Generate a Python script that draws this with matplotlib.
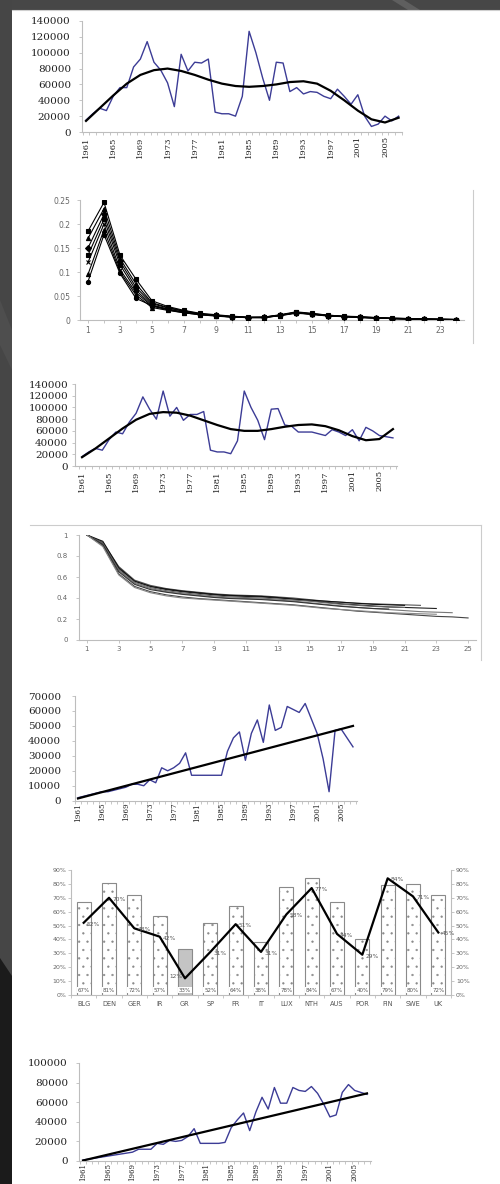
import numpy as np
import matplotlib
matplotlib.use("Agg")
import matplotlib.pyplot as plt
from matplotlib.patches import Polygon
from matplotlib.lines import Line2D

W, H = 500, 1184
plt.rcParams["hatch.linewidth"] = 0.4

BLUE = "#3c3c96"
AXIS = "#bdbdbd"
SERIF = "DejaVu Serif"

# ---- data ----------------------------------------------------------------
years = list(range(1961, 2008))
trend_years = list(range(1961, 2008, 2))

catch_a = [15000, 23000, 30000, 27000, 45000, 56000, 56000, 82000, 92000, 114000,
           88000, 78000, 62000, 32000, 98000, 77000, 88000, 87000, 92000, 25000,
           23000, 23000, 20000, 45000, 127000, 100000, 68000, 40000, 88000, 87000,
           51000, 56000, 48000, 51000, 50000, 45000, 42000, 54000, 45000, 35000,
           47000, 20000, 7000, 10000, 20000, 14000, 20000]
trend_a = [14000, 30000, 46000, 61000, 72000, 78000, 80000, 77000, 72000, 66000,
           61000, 58000, 57000, 58000, 60000, 63000, 64000, 61000, 52000, 40000,
           27000, 16000, 12000, 18000]

catch_b = [16000, 24000, 30000, 27000, 45000, 58000, 55000, 75000, 90000, 118000,
           97000, 80000, 128000, 85000, 100000, 78000, 88000, 88000, 93000, 27000,
           24000, 24000, 21000, 43000, 128000, 100000, 78000, 45000, 97000, 98000,
           70000, 68000, 58000, 58000, 58000, 55000, 52000, 62000, 58000, 52000,
           62000, 43000, 66000, 60000, 52000, 50000, 48000]
trend_b = [15000, 30000, 47000, 64000, 79000, 89000, 92000, 91000, 86000, 78000,
           70000, 63000, 60000, 60000, 63000, 67000, 70000, 71000, 68000, 61000,
           51000, 44000, 46000, 63000]

catch_c = [2000, 3000, 4000, 5000, 6000, 6000, 7000, 8000, 9000, 11000,
           11000, 10000, 14000, 12000, 22000, 20000, 22000, 25000, 32000, 17000,
           17000, 17000, 17000, 17000, 17000, 33000, 42000, 46000, 27000, 45000,
           54000, 39000, 64000, 47000, 49000, 63000, 61000, 59000, 65000, 55000,
           45000, 28000, 6000, 47000, 48000, 42000, 36000]
trend_c_years = [1961, 2007]
trend_c = [1500, 50000]

catch_d = [1000, 2000, 3000, 4000, 5000, 6000, 7000, 8000, 9000, 12000,
           12000, 12000, 18000, 17000, 21000, 20000, 21000, 25000, 33000, 18000,
           18000, 18000, 18000, 19000, 34000, 42000, 49000, 31000, 50000, 65000,
           53000, 75000, 59000, 59000, 75000, 72000, 71000, 76000, 69000, 58000,
           45000, 47000, 70000, 78000, 72000, 70000, 68000]
trend_d_years = [1961, 2007]
trend_d = [500, 69000]

# age-class shares (x = 1..24)
share_x = list(range(1, 25))
share_series = [
    [0.185, 0.245, 0.135, 0.085, 0.040, 0.028, 0.020, 0.014, 0.011, 0.008, 0.006, 0.006,
     0.011, 0.017, 0.014, 0.010, 0.008, 0.007, 0.005, 0.004, 0.003, 0.002, 0.002, 0.001],
    [0.170, 0.232, 0.128, 0.075, 0.036, 0.026, 0.019, 0.013, 0.010, 0.007, 0.006, 0.005,
     0.010, 0.016, 0.013, 0.010, 0.008, 0.006, 0.005, 0.004, 0.003, 0.002, 0.002, 0.001],
    [0.150, 0.220, 0.122, 0.068, 0.034, 0.025, 0.018, 0.012, 0.010, 0.007, 0.005, 0.006,
     0.010, 0.015, 0.013, 0.009, 0.007, 0.006, 0.005, 0.003, 0.003, 0.002, 0.001, 0.001],
    [0.135, 0.210, 0.115, 0.062, 0.031, 0.023, 0.016, 0.012, 0.009, 0.007, 0.005, 0.005,
     0.010, 0.016, 0.012, 0.009, 0.007, 0.006, 0.004, 0.003, 0.002, 0.002, 0.001, 0.001],
    [0.120, 0.200, 0.105, 0.057, 0.029, 0.021, 0.015, 0.011, 0.009, 0.006, 0.005, 0.005,
     0.009, 0.015, 0.012, 0.009, 0.007, 0.005, 0.004, 0.003, 0.002, 0.002, 0.001, 0.001],
    [0.095, 0.188, 0.100, 0.052, 0.026, 0.020, 0.015, 0.011, 0.008, 0.006, 0.005, 0.005,
     0.009, 0.014, 0.012, 0.008, 0.007, 0.005, 0.004, 0.003, 0.002, 0.001, 0.001, 0.001],
    [0.080, 0.178, 0.097, 0.045, 0.030, 0.022, 0.016, 0.012, 0.009, 0.006, 0.005, 0.006,
     0.010, 0.015, 0.012, 0.009, 0.007, 0.006, 0.004, 0.003, 0.002, 0.002, 0.001, 0.001],
]
share_markers = ["s", "^", "D", "s", "x", "^", "o"]

# cumulative survival curves (x starts at 1)
surv_series = [
    [1, 0.93, 0.70, 0.57, 0.52, 0.49, 0.47, 0.455, 0.44, 0.43, 0.425, 0.42, 0.41, 0.40,
     0.385, 0.37, 0.36, 0.35, 0.345, 0.34, 0.335, 0.33],
    [1, 0.92, 0.68, 0.56, 0.51, 0.48, 0.46, 0.445, 0.43, 0.42, 0.415, 0.41, 0.40, 0.39,
     0.375, 0.36, 0.345, 0.335, 0.325, 0.315, 0.31, 0.305, 0.30],
    [1, 0.91, 0.66, 0.54, 0.49, 0.46, 0.44, 0.425, 0.41, 0.40, 0.395, 0.39, 0.38, 0.37,
     0.355, 0.34, 0.325, 0.31, 0.30, 0.29, 0.28, 0.27, 0.265, 0.26],
    [1, 0.90, 0.63, 0.51, 0.46, 0.43, 0.41, 0.395, 0.385, 0.375, 0.365, 0.355, 0.345, 0.335,
     0.32, 0.305, 0.29, 0.275, 0.265, 0.255, 0.245, 0.235, 0.225, 0.22, 0.21],
    [1, 0.94, 0.69, 0.56, 0.51, 0.485, 0.465, 0.45, 0.435, 0.425, 0.42, 0.415, 0.405, 0.39,
     0.38, 0.37, 0.36, 0.35, 0.34, 0.335, 0.33],
    [1, 0.92, 0.67, 0.55, 0.50, 0.47, 0.45, 0.435, 0.42, 0.41, 0.405, 0.40, 0.39, 0.38,
     0.37, 0.355, 0.34, 0.33, 0.32, 0.315, 0.31],
    [1, 0.91, 0.65, 0.53, 0.48, 0.455, 0.435, 0.42, 0.405, 0.395, 0.39, 0.385, 0.375, 0.365,
     0.35, 0.335, 0.32, 0.31, 0.30, 0.295],
    [1, 0.89, 0.62, 0.50, 0.45, 0.42, 0.40, 0.39, 0.38, 0.37, 0.36, 0.35, 0.34, 0.33,
     0.315, 0.30, 0.29, 0.28, 0.27, 0.26, 0.255, 0.25, 0.245],
]
surv_colors = ["#555555", "#222222", "#777777", "#444444", "#111111", "#666666", "#333333", "#888888"]

countries = ["BLG", "DEN", "GER", "IR", "GR", "SP", "FR", "IT", "LUX", "NTH",
             "AUS", "POR", "FIN", "SWE", "UK"]
bar_pct = [67, 81, 72, 57, 33, 52, 64, 38, 78, 84, 67, 40, 79, 80, 72]
line_pct = [52, 70, 48, 42, 12, 31, 51, 31, 58, 77, 44, 29, 84, 71, 45]

# ---- figure & backdrop ---------------------------------------------------
fig = plt.figure(figsize=(W / 100, H / 100), dpi=100, facecolor="white")


def fpoly(pts, color, z=-5):
    pts = [(x / W, 1 - y / H) for x, y in pts]
    fig.add_artist(Polygon(pts, closed=True, transform=fig.transFigure,
                           facecolor=color, edgecolor="none", zorder=z))


def fline(x0, y0, x1, y1, color="#c8c8c8", lw=0.8):
    fig.add_artist(Line2D([x0 / W, x1 / W], [1 - y0 / H, 1 - y1 / H],
                          transform=fig.transFigure, color=color, lw=lw))


fpoly([(0, 0), (500, 0), (500, 10), (0, 10)], "#474747")
fpoly([(392, 0), (404, 0), (420, 10), (408, 10)], "#5f5f5f")
fpoly([(0, 0), (12, 0), (12, 1184), (0, 1184)], "#464646")
fpoly([(0, 300), (12, 330), (12, 370), (0, 345)], "#4e4e4e")
fpoly([(0, 958), (12, 976), (12, 1184), (0, 1184)], "#1b1b1b")
fline(12, 10, 500, 10, "#cfcfcf", 0.8)


def px_axes(left, top, right, bottom):
    ax = fig.add_axes([left / W, 1 - bottom / H, (right - left) / W, (bottom - top) / H])
    ax.set_facecolor("none")
    return ax


def base_spines(ax):
    for s in ("top", "right"):
        ax.spines[s].set_visible(False)
    for s in ("left", "bottom"):
        ax.spines[s].set_color(AXIS)
        ax.spines[s].set_linewidth(0.8)


def year_panel(ax, values, tx, ty, ymax, ystep, xlim, ypad, xpad, ysize, xsize):
    x = [y - years[0] for y in years]
    ax.plot(x, values, color=BLUE, lw=1.0, zorder=3)
    ax.plot([y - years[0] for y in tx], ty, color="black", lw=1.6, zorder=4)
    ax.set_xlim(*xlim)
    ax.set_ylim(0, ymax)
    base_spines(ax)
    yt = list(range(0, ymax + 1, ystep))
    ax.set_yticks(yt)
    ax.set_yticklabels([str(v) for v in yt], family=SERIF, fontsize=ysize, color="#222222")
    ax.set_xticks(x[::4])
    ax.set_xticklabels([str(y) for y in years[::4]], rotation=90, family=SERIF,
                       fontsize=xsize, color="#222222")
    ax.set_xticks(np.arange(-0.5, len(years), 1), minor=True)
    ax.tick_params(axis="x", which="major", length=0, pad=xpad)
    ax.tick_params(axis="x", which="minor", length=2, color=AXIS, width=0.6)
    ax.tick_params(axis="y", length=2, color=AXIS, width=0.6, pad=ypad)


# panel 1: catches with polynomial trend
ax1 = px_axes(82, 21, 402, 132)
year_panel(ax1, catch_a, trend_years, trend_a, 140000, 20000, (-0.59, 46.41), 6, 3, 7.5, 6)

# panel 2: age-class shares
ax2 = px_axes(80, 200, 464, 320)
for vals, m in zip(share_series, share_markers):
    ax2.plot(share_x, vals, color="black", lw=0.8, marker=m, ms=3, mew=0.8, zorder=3)
ax2.set_xlim(0.5, 24.5)
ax2.set_ylim(0, 0.25)
base_spines(ax2)
ax2.set_yticks([0, 0.05, 0.1, 0.15, 0.2, 0.25])
ax2.set_yticklabels(["0", "0.05", "0.1", "0.15", "0.2", "0.25"], fontsize=5.5, color="#666666")
ax2.set_xticks(range(1, 24, 2))
ax2.set_xticklabels([str(v) for v in range(1, 24, 2)], fontsize=5.5, color="#666666")
ax2.set_xticks(range(1, 25), minor=True)
ax2.tick_params(axis="both", which="both", length=2, color=AXIS, width=0.6)
ax2.tick_params(axis="y", pad=5)
ax2.tick_params(axis="x", pad=2)
fline(473, 190, 473, 343, "#cccccc", 0.8)

# panel 3: catches with polynomial trend
ax3 = px_axes(75, 384, 397, 466)
year_panel(ax3, catch_b, trend_years, trend_b, 140000, 20000, (-1.04, 46.6), 3, 3, 7.5, 6)

# panel 4: survival curves
ax4 = px_axes(79, 535, 476, 640)
for vals, c in zip(surv_series, surv_colors):
    ax4.plot(range(1, len(vals) + 1), vals, color=c, lw=0.8, zorder=3)
ax4.set_xlim(0.5, 25.5)
ax4.set_ylim(0, 1)
base_spines(ax4)
ax4.set_yticks([0, 0.2, 0.4, 0.6, 0.8, 1])
ax4.set_yticklabels(["0", "0.2", "0.4", "0.6", "0.8", "1"], fontsize=5, color="#666666")
ax4.set_xticks(range(1, 26, 2))
ax4.set_xticklabels([str(v) for v in range(1, 26, 2)], fontsize=5, color="#666666")
ax4.tick_params(axis="both", length=2, color=AXIS, width=0.6)
ax4.tick_params(axis="y", pad=6)
ax4.tick_params(axis="x", pad=2)
fline(30, 525, 481, 525, "#cccccc", 0.8)
fline(481, 525, 481, 660, "#cccccc", 0.8)

# panel 5: catches with linear trend
ax5 = px_axes(75, 696, 357, 800.7)
year_panel(ax5, catch_c, trend_c_years, trend_c, 70000, 10000, (-0.33, 46.67), 8, 1.5, 7.5, 5.2)

# panel 6: country bars with line on dual percent axes
ax6 = px_axes(71, 870, 451, 995)
pos = np.arange(len(countries))
bars = ax6.bar(pos, bar_pct, width=0.56, facecolor="white", edgecolor="#8a8a8a",
               hatch="..", linewidth=0.8, zorder=2)
bars[countries.index("GR")].set_facecolor("#c4c4c4")
bars[countries.index("GR")].set_hatch("")
ax6.plot(pos, line_pct, color="black", lw=1.6, zorder=4)
for i, (b, l) in enumerate(zip(bar_pct, line_pct)):
    ax6.text(i, 3.5, f"{b}%", ha="center", va="center", fontsize=4, color="#555555", zorder=5,
             bbox=dict(boxstyle="square,pad=0.15", facecolor="white", edgecolor="none"))
    if countries[i] == "GR":
        ax6.text(i - 0.1, l + 1, f"{l}%", ha="right", va="center", fontsize=4.2,
                 color="#555555", zorder=5)
    else:
        ax6.text(i + 0.12, l - 1, f"{l}%", ha="left", va="center", fontsize=4.2,
                 color="#555555", zorder=5)
ax6.set_xlim(-0.5, len(countries) - 0.5)
ax6.set_ylim(0, 90)
ax6.spines["top"].set_visible(False)
for s in ("left", "right", "bottom"):
    ax6.spines[s].set_color(AXIS)
    ax6.spines[s].set_linewidth(0.8)
ax6.set_yticks(range(0, 91, 10))
ax6.set_yticklabels([f"{v}%" for v in range(0, 91, 10)], fontsize=4.5, color="#666666")
ax6.set_xticks(pos)
ax6.set_xticklabels(countries, fontsize=4.8, color="#555555")
ax6.set_xticks(np.arange(-0.5, len(countries), 1), minor=True)
ax6.tick_params(axis="x", which="major", length=0, pad=4)
ax6.tick_params(axis="x", which="minor", length=2, color=AXIS, width=0.6)
ax6.tick_params(axis="y", length=2, color=AXIS, width=0.6, pad=1.5,
                right=True, labelright=True)

# panel 7: catches with linear trend (year labels kept small to sit above the edge)
ax7 = px_axes(79, 1063, 371, 1161)
year_panel(ax7, catch_d, trend_d_years, trend_d, 100000, 20000, (-0.65, 46.65), 6, 1.5, 7.5, 5)

fig.savefig("out.png", dpi=100, facecolor=fig.get_facecolor())
